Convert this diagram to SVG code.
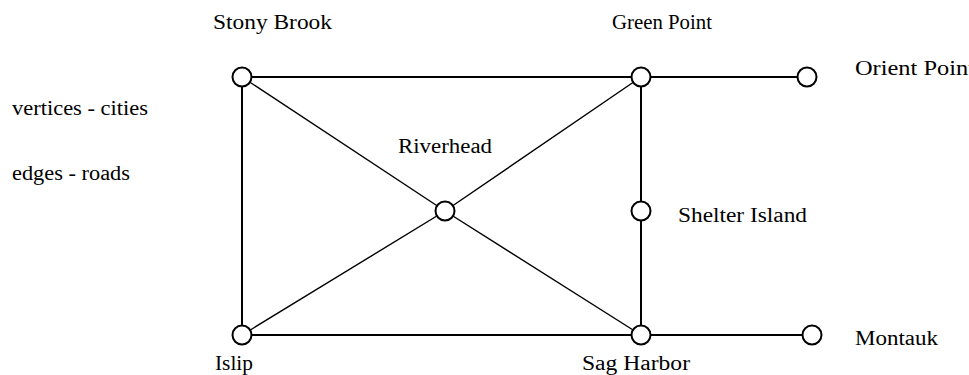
<svg xmlns="http://www.w3.org/2000/svg" width="969" height="375" viewBox="0 0 969 375">
<style>
.bg{fill:#fff}
.e{stroke:#000;stroke-width:2;fill:none}
.d{stroke:#000;stroke-width:1.4;fill:none}
.n{fill:#fff;stroke:#000;stroke-width:2}
text{font-family:"Liberation Serif","Times New Roman",serif;font-size:20px;fill:#000}
</style>
<rect class="bg" x="0" y="0" width="969" height="375"/>
<g id="connectors">
<line class="e" x1="242" y1="77" x2="641" y2="77"/>
<line class="e" x1="641" y1="77" x2="807" y2="77"/>
<line class="e" x1="242" y1="77" x2="242" y2="335"/>
<line class="e" x1="641" y1="77" x2="641" y2="211"/>
<line class="e" x1="641" y1="211" x2="641" y2="335"/>
<line class="e" x1="242" y1="335" x2="641" y2="335"/>
<line class="e" x1="641" y1="335" x2="812" y2="335"/>
<line class="d" x1="242" y1="77" x2="445" y2="211"/>
<line class="d" x1="445" y1="211" x2="641" y2="335"/>
<line class="d" x1="242" y1="335" x2="445" y2="211"/>
<line class="d" x1="445" y1="211" x2="641" y2="77"/>
</g>
<g id="legend">
<text x="12" y="115" textLength="136" lengthAdjust="spacingAndGlyphs">vertices - cities</text>
<text x="12" y="180" textLength="118" lengthAdjust="spacingAndGlyphs">edges - roads</text>
</g>
<g id="stony-brook"><circle class="n" cx="242" cy="77" r="9.5"/><text x="213" y="29" textLength="119" lengthAdjust="spacingAndGlyphs">Stony Brook</text></g>
<g id="green-point"><circle class="n" cx="641" cy="77" r="9.5"/><text x="612" y="29" textLength="100" lengthAdjust="spacingAndGlyphs">Green Point</text></g>
<g id="orient-point"><circle class="n" cx="807" cy="77" r="9.5"/><text x="855" y="75" textLength="120" lengthAdjust="spacingAndGlyphs">Orient Point</text></g>
<g id="riverhead"><circle class="n" cx="445" cy="211" r="9.5"/><text x="398" y="153" textLength="94" lengthAdjust="spacingAndGlyphs">Riverhead</text></g>
<g id="shelter-island"><circle class="n" cx="641" cy="211" r="9.5"/><text x="678" y="222" textLength="129" lengthAdjust="spacingAndGlyphs">Shelter Island</text></g>
<g id="islip"><circle class="n" cx="242" cy="335" r="9.5"/><text x="215" y="370" textLength="38" lengthAdjust="spacingAndGlyphs">Islip</text></g>
<g id="sag-harbor"><circle class="n" cx="641" cy="335" r="9.5"/><text x="582" y="370" textLength="108" lengthAdjust="spacingAndGlyphs">Sag Harbor</text></g>
<g id="montauk"><circle class="n" cx="812" cy="335" r="9.5"/><text x="855" y="345" textLength="83" lengthAdjust="spacingAndGlyphs">Montauk</text></g>
</svg>
